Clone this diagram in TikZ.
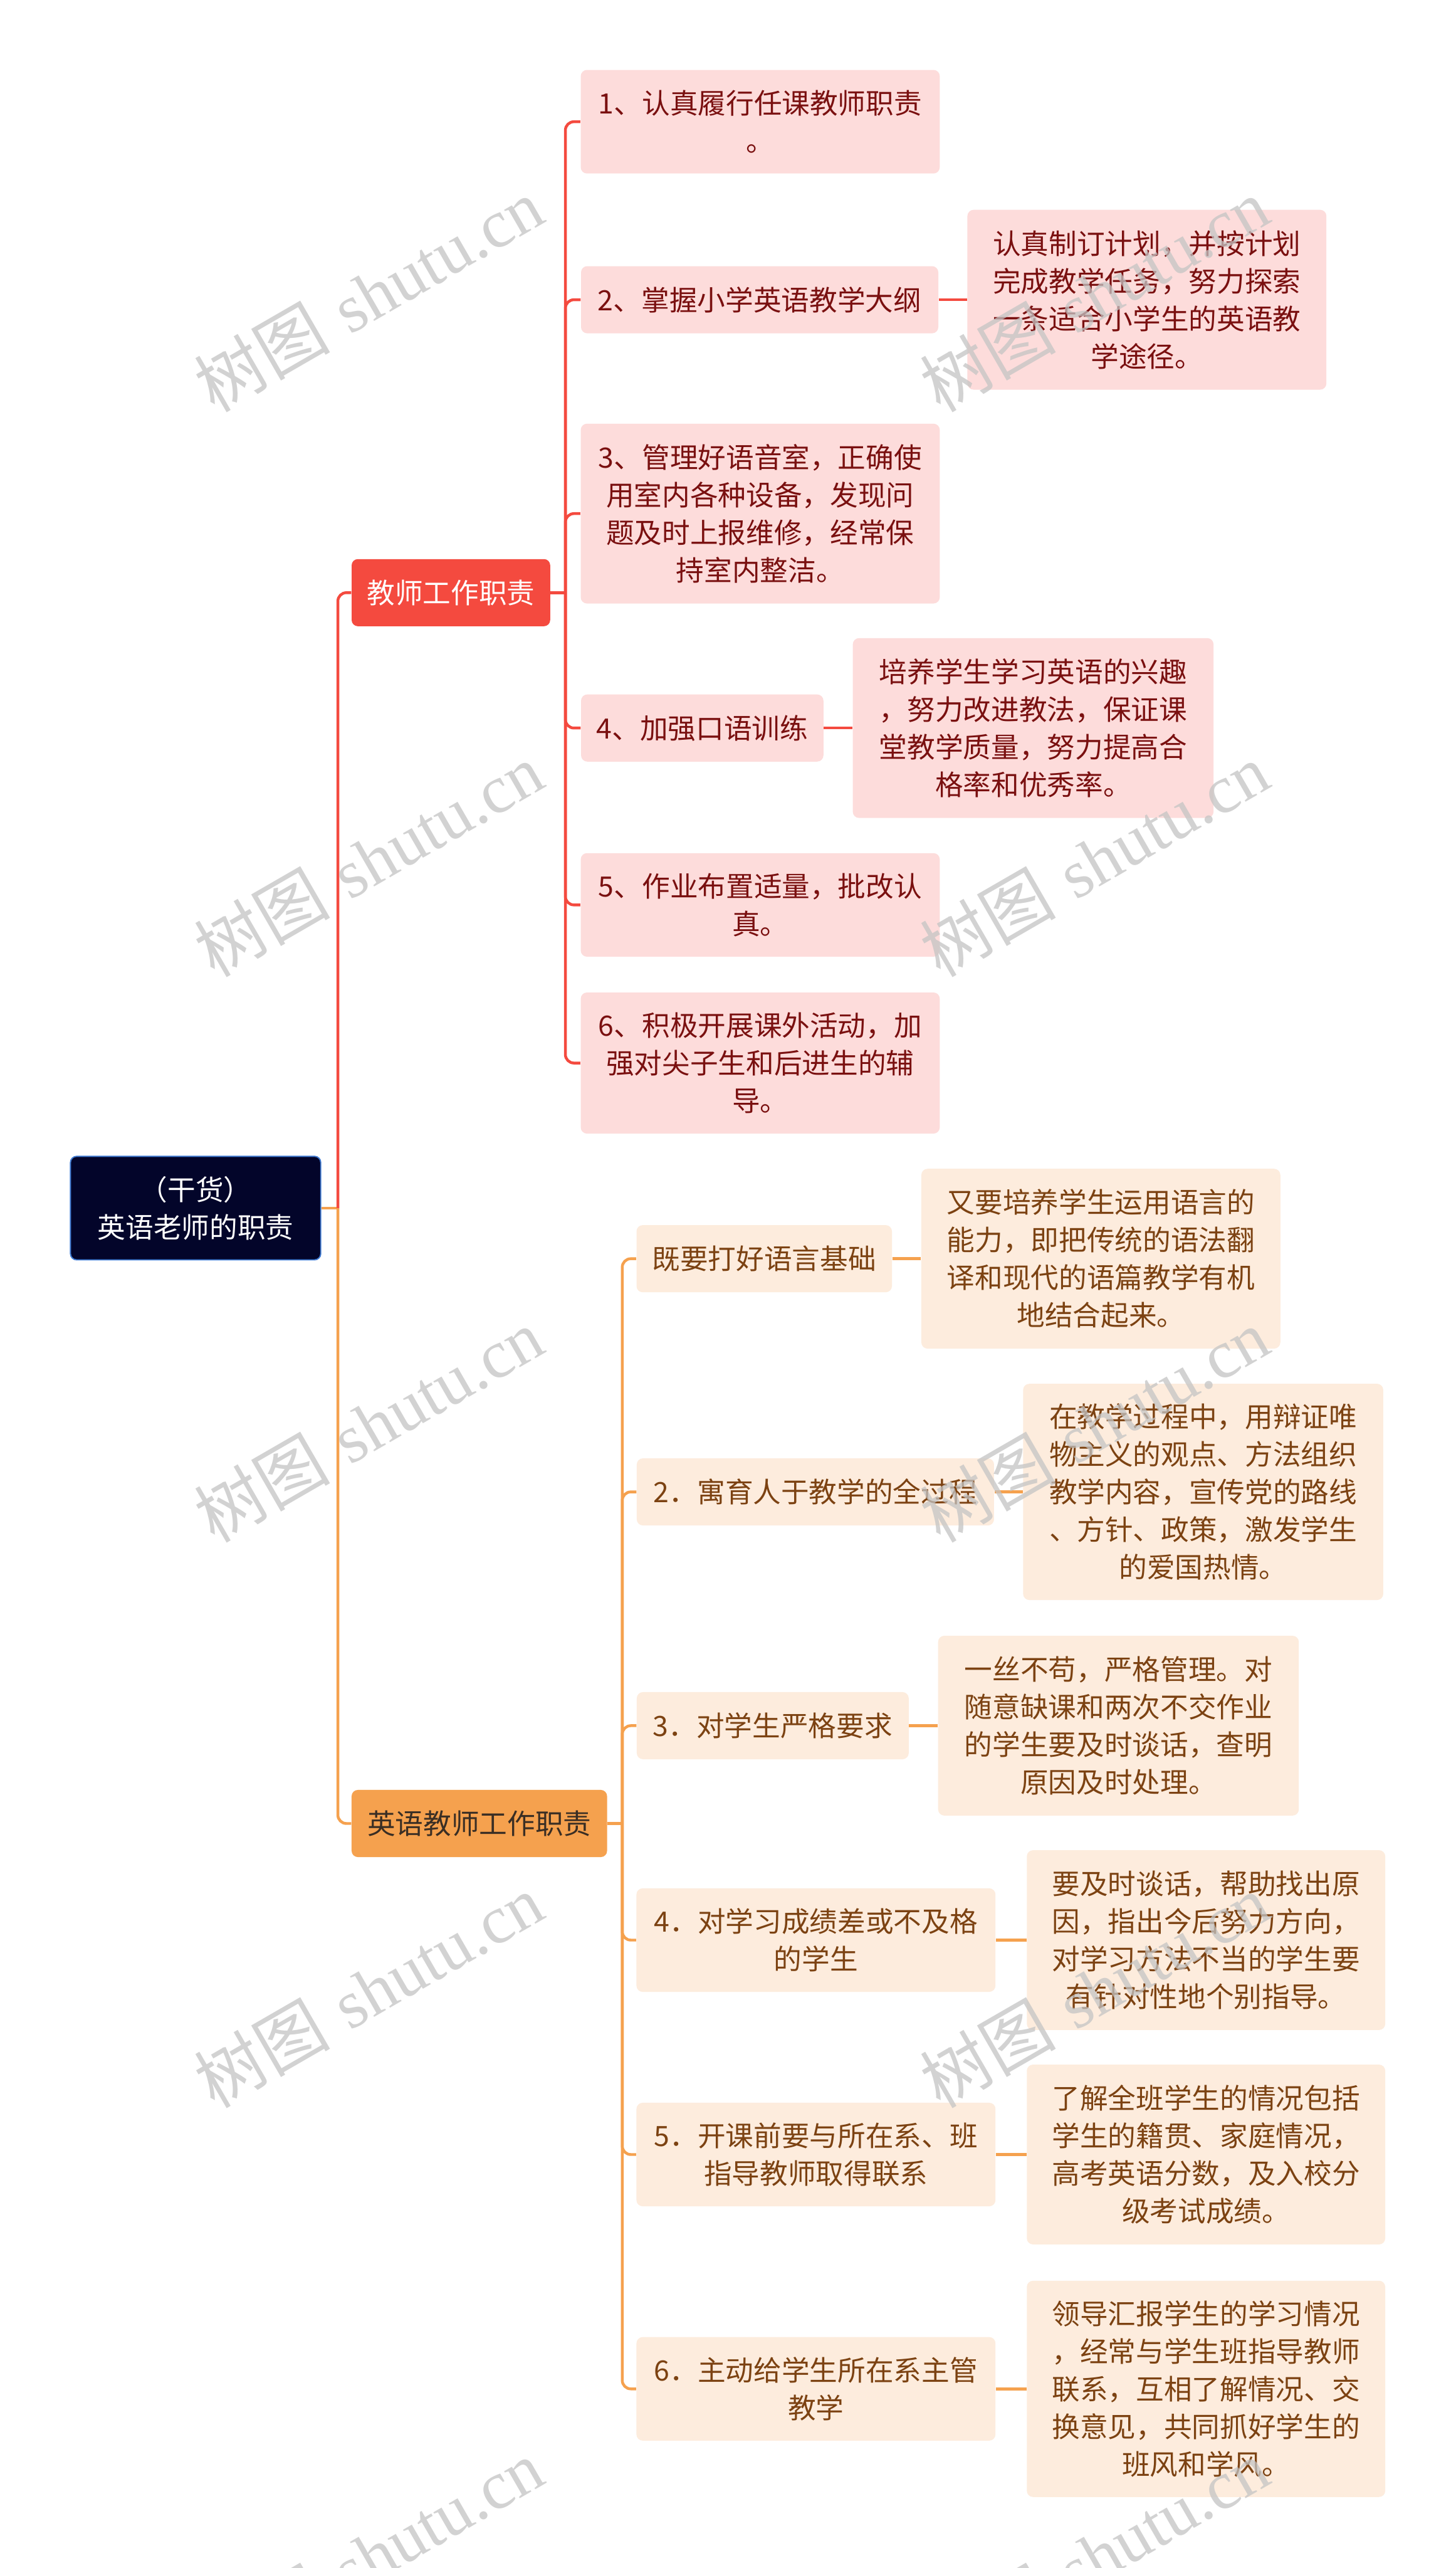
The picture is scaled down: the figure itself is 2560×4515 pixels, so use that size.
\documentclass[tikz,border=0pt]{standalone}
\usepackage{fontspec}
\newfontfamily\cjk{Noto Sans CJK SC}
\newfontfamily\wmserif{Liberation Serif}
\usetikzlibrary{calc}
\definecolor{rootbg}{HTML}{03052A}
\definecolor{rootbd}{HTML}{3F7BD3}
\definecolor{redM}{HTML}{F44A3F}
\definecolor{redL}{HTML}{FDDCDB}
\definecolor{redT}{HTML}{7A1010}
\definecolor{orM}{HTML}{F5A14E}
\definecolor{orL}{HTML}{FDECDD}
\definecolor{orT}{HTML}{7C4212}
\definecolor{orBT}{HTML}{3A2E24}
\definecolor{wm}{HTML}{C4C4C4}
\begin{document}
\begin{tikzpicture}[x=0.01cm,y=-0.01cm,
  box/.style={rounded corners=0.11cm, align=center, inner sep=0pt, font=\cjk\fontsize{14}{18.8}\selectfont},
  rootbox/.style={box, fill=rootbg, draw=rootbd, line width=0.6pt, text=white},
  redmain/.style={box, fill=redM, text=white},
  redsub/.style={box, fill=redL, text=redT},
  ormain/.style={box, fill=orM, text=orBT},
  orsub/.style={box, fill=orL, text=orT},
  redline/.style={draw=redM, line width=1.4pt, rounded corners=0.15cm},
  orline/.style={draw=orM, line width=1.4pt, rounded corners=0.15cm},
  wmark/.style={text=wm, opacity=0.75, rotate=30, inner sep=0pt, font=\fontsize{34}{40}\selectfont},
  l1/.style={minimum height=1.18cm},
  l2/.style={minimum height=1.82cm},
  l3/.style={minimum height=2.48cm},
  l4/.style={minimum height=3.16cm},
  l5/.style={minimum height=3.80cm}
]
\useasboundingbox (0,0) rectangle (2560,4515);
\fill[white] (0,0) rectangle (2560,4515);

% root and main branches
\node[rootbox, minimum width=4.4cm, minimum height=1.82cm] (root) at (344,2124) {（干货）\\英语老师的职责};
\node[redmain, l1, minimum width=3.49cm] (b1) at (793,1042) {教师工作职责};
\node[ormain, l1, minimum width=4.49cm] (b2) at (843,3206) {英语教师工作职责};

% red children
\node[redsub, l2, minimum width=6.31cm] (c1) at (1337,214) {1、认真履行任课教师职责\\。};
\node[redsub, l1, minimum width=6.28cm] (c2) at (1336,527) {2、掌握小学英语教学大纲};
\node[redsub, l4, minimum width=6.31cm] (c2d) at (2017,527) {认真制订计划，并按计划\\完成教学任务，努力探索\\一条适合小学生的英语教\\学途径。};
\node[redsub, l4, minimum width=6.31cm] (c3) at (1337,903) {3、管理好语音室，正确使\\用室内各种设备，发现问\\题及时上报维修，经常保\\持室内整洁。};
\node[redsub, l1, minimum width=4.26cm] (c4) at (1235,1280) {4、加强口语训练};
\node[redsub, l4, minimum width=6.34cm] (c4d) at (1817,1280) {培养学生学习英语的兴趣\\，努力改进教法，保证课\\堂教学质量，努力提高合\\格率和优秀率。};
\node[redsub, l2, minimum width=6.31cm] (c5) at (1337,1591) {5、作业布置适量，批改认\\真。};
\node[redsub, l3, minimum width=6.31cm] (c6) at (1337,1869) {6、积极开展课外活动，加\\强对尖子生和后进生的辅\\导。};

% orange children
\node[orsub, l1, minimum width=4.49cm] (o1) at (1344,2213) {既要打好语言基础};
\node[orsub, l4, minimum width=6.31cm] (o1d) at (1936,2213) {又要培养学生运用语言的\\能力，即把传统的语法翻\\译和现代的语篇教学有机\\地结合起来。};
\node[orsub, l1, minimum width=6.28cm] (o2) at (1434,2623) {2．寓育人于教学的全过程};
\node[orsub, l5, minimum width=6.33cm] (o2d) at (2116,2623) {在教学过程中，用辩证唯\\物主义的观点、方法组织\\教学内容，宣传党的路线\\、方针、政策，激发学生\\的爱国热情。};
\node[orsub, l1, minimum width=4.78cm] (o3) at (1359,3034) {3．对学生严格要求};
\node[orsub, l4, minimum width=6.34cm] (o3d) at (1967,3034) {一丝不苟，严格管理。对\\随意缺课和两次不交作业\\的学生要及时谈话，查明\\原因及时处理。};
\node[orsub, l2, minimum width=6.31cm] (o4) at (1435,3411) {4．对学习成绩差或不及格\\的学生};
\node[orsub, l4, minimum width=6.30cm] (o4d) at (2121,3411) {要及时谈话，帮助找出原\\因，指出今后努力方向，\\对学习方法不当的学生要\\有针对性地个别指导。};
\node[orsub, l2, minimum width=6.31cm] (o5) at (1435,3788) {5．开课前要与所在系、班\\指导教师取得联系};
\node[orsub, l4, minimum width=6.30cm] (o5d) at (2121,3788) {了解全班学生的情况包括\\学生的籍贯、家庭情况，\\高考英语分数，及入校分\\级考试成绩。};
\node[orsub, l2, minimum width=6.31cm] (o6) at (1435,4200) {6．主动给学生所在系主管\\教学};
\node[orsub, l5, minimum width=6.30cm] (o6d) at (2121,4200) {领导汇报学生的学习情况\\，经常与学生班指导教师\\联系，互相了解情况、交\\换意见，共同抓好学生的\\班风和学风。};

% root connectors
\coordinate (j) at ($(root.east)+(29,0)$);
\draw[orline] (root.east) -- (j);
\draw[orline] (j) |- (b2.west);
\draw[redline] (j) |- (b1.west);

% red branch connectors
\coordinate (rb) at ($(b1.east)+(26,0)$);
\draw[redline] (b1.east) -- (rb);
\foreach \n in {c1,c2,c3,c4,c5,c6} { \draw[redline] (rb) |- (\n.west); }
\draw[redline] (c2.east) -- (c2d.west);
\draw[redline] (c4.east) -- (c4d.west);

% orange branch connectors
\coordinate (ob) at ($(b2.east)+(26,0)$);
\draw[orline] (b2.east) -- (ob);
\foreach \n in {o1,o2,o3,o4,o5,o6} { \draw[orline] (ob) |- (\n.west); }
\draw[orline] (o1.east) -- (o1d.west);
\draw[orline] (o2.east) -- (o2d.west);
\draw[orline] (o3.east) -- (o3d.west);
\draw[orline] (o4.east) -- (o4d.west);
\draw[orline] (o5.east) -- (o5d.west);
\draw[orline] (o6.east) -- (o6d.west);

% watermarks
\foreach \wy [count=\k] in {518,1512,2506,3500,4494} {
  \node[wmark] (wl\k) at (648,\wy) {{\cjk 树图} {\wmserif shutu.cn}};
  \node[wmark] (wr\k) at (1924,\wy) {{\cjk 树图} {\wmserif shutu.cn}};
}
\end{tikzpicture}
\end{document}
